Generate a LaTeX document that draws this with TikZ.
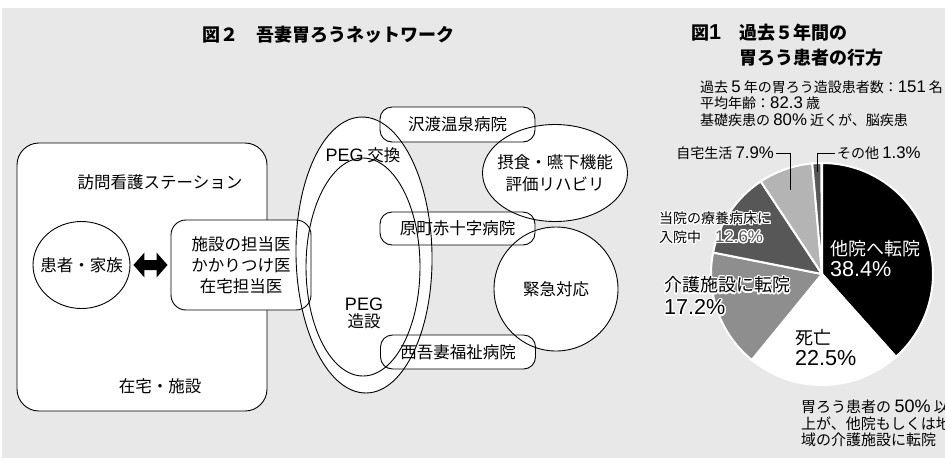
\documentclass[tikz,border=0pt]{standalone}
\usepackage{fontspec}
\setmainfont{Noto Sans CJK JP}
\newfontfamily\latinface{Liberation Sans}[Scale=1.2]
\usepackage{xcolor}
\usepackage{contour}
\usetikzlibrary{calc}
\usetikzlibrary{shapes.geometric}
\contourlength{1.2pt}
\contournumber{24}
\definecolor{paper}{HTML}{E8E8E8}
\definecolor{piemid}{HTML}{8E8E8E}
\definecolor{piedark}{HTML}{575757}
\definecolor{pielight}{HTML}{B4B4B4}
\newcommand\ltn[1]{{\latinface #1}}
\newcommand\netsize{\fontsize{16.5}{21}\selectfont}
\newcommand\headsize{\fontsize{18}{25}\selectfont\bfseries}
\newcommand\infosize{\fontsize{14}{16.5}\selectfont}
\newcommand\piebig{\fontsize{18}{21}\selectfont}
\newcommand\piesmall{\fontsize{14}{19}\selectfont}
\newcommand\notesize{\fontsize{15}{16.5}\selectfont}

\begin{document}
\begin{tikzpicture}[x=1pt,y=-1pt]
    \tikzstyle{outline}=[line width=.9pt,black]
    \tikzstyle{fillpass}=[fill=white,draw=none,text opacity=0]
    \tikzstyle{linepass}=[draw,outline,fill=none]
    \tikzstyle{netlabel}=[font=\netsize,inner sep=1pt]
    \tikzstyle{bigbox}=[draw,outline,fill=white,rounded corners=22pt,minimum width=250pt,minimum height=268pt]
    \tikzstyle{docbox}=[netlabel,align=center,rounded corners=15pt,minimum width=140pt,minimum height=90pt]
    \tikzstyle{hospital}=[netlabel,rounded corners=12pt,minimum width=155pt,minimum height=34pt]
    \tikzstyle{pegring}=[ellipse,inner sep=0pt,minimum width=136pt,minimum height=276pt]
    \tikzstyle{roundspot}=[netlabel,ellipse,align=center,inner sep=0pt]
    \tikzstyle{slice}=[draw=white,line width=2pt,line join=round]
    \tikzstyle{pietext}=[anchor=west,align=left,inner sep=2pt,font=\piebig]
    \tikzstyle{leader}=[draw,line width=.8pt,black]
    \useasboundingbox (0,0) rectangle (945,459);
    \fill[white] (0,0) rectangle (945,459);
    \fill[paper] (2,8) rectangle (945,458);
    % network
    \node[font=\headsize] (nettitle) at (328,35) {図２　吾妻胃ろうネットワーク};
    \node[bigbox] (home) at (142,277) {};
    \node[netlabel] (station) at (160,182) {訪問看護ステーション};
    \node[netlabel] (zaitaku) at (160,386) {在宅・施設};
    \node[roundspot,draw,outline,fill=white,inner xsep=-8pt,minimum width=97pt,minimum height=87pt] (patient) at (81.5,265) {患者・家族};
    \foreach \pass in {fillpass,linepass}{
        \node[pegring,\pass,rotate=1] (pegx) at (364,255) {};
        \node[pegring,\pass,minimum width=114pt,minimum height=218pt] (pegs) at (363,267) {};
        \node[hospital,\pass,minimum height=35pt] (sawa) at (457.5,124.5) {沢渡温泉病院};
        \node[hospital,\pass,minimum height=33pt] (hara) at (457.5,228.5) {原町赤十字病院};
        \node[hospital,\pass] (nishi) at (458,352) {西吾妻福祉病院};
        \node[roundspot,\pass,inner xsep=-7pt,minimum width=145pt,minimum height=97pt,font=\fontsize{16.5}{22}\selectfont] (rehab) at (555,173) {摂食・嚥下機能\\評価リハビリ};
        \node[roundspot,\pass,circle,minimum size=124pt] (urgent) at (556,289) {緊急対応};
        \node[docbox,\pass] (doctors) at (241,265) {施設の担当医\\かかりつけ医\\在宅担当医};
    }
    \node[netlabel] (pegxlabel) at (363,155) {{\latinface\fontsize{15}{17}\selectfont PEG} 交換};
    \node[netlabel,align=center,font=\fontsize{16.5}{17}\selectfont] (pegslabel) at (364,313) {{\latinface\fontsize{15}{17}\selectfont PEG}\\造設};
    % double arrow between patient and doctors
    \coordinate (arrl) at ($(patient.east)+(3,0)$);
    \coordinate (arrr) at ($(doctors.west)+(-3,0)$);
    \fill[black] (arrl) -- ++(11,-12.5) -- ++(0,7.5) -- ($(arrr)+(-11,-5)$) -- ++(0,-7.5)
        -- (arrr) -- ++(-11,12.5) -- ++(0,-7.5) -- ($(arrl)+(11,5)$) -- ++(0,7.5) -- cycle;
    % pie chart
    \node[font=\headsize,anchor=west,align=left,inner sep=0pt] (pietitle) at (691,45.5) {図\ltn{1}　過去５年間の\\\phantom{図\ltn{1}　}胃ろう患者の行方};
    \node[font=\infosize,anchor=west,align=left,inner sep=0pt] (info) at (700,103.5) {過去 \ltn{5} 年の胃ろう造設患者数：\ltn{151} 名\\平均年齢：\ltn{82.3} 歳\\基礎疾患の \ltn{80\%} 近くが、脳疾患};
    \coordinate (pie) at (822,274);
    \foreach \a/\b/\c in {-90/48.24/black,48.24/129.24/white,129.24/191.16/piemid,191.16/236.52/piedark,236.52/264.96/pielight,264.96/269.64/piedark}
        \draw[slice,fill=\c] (pie) -- ++(\a:111) arc[start angle=\a,end angle=\b,radius=111] -- cycle;
    \node[pietext,text=white] (other) at (828,258.5) {他院へ転院\\\ltn{38.4\%}};
    \node[pietext] (death) at (793,347.5) {死亡\\\ltn{22.5\%}};
    \node[pietext,font=\fontsize{18}{23}\selectfont] (care) at (662,296.5) {\contour{white}{介護施設に転院}\\\contour{white}{\ltn{17.2\%}}};
    \node[pietext,font=\piesmall] (ward) at (657,228.5) {\contour{white}{当院の療養病床に}\\\contour{white}{入院中}\quad\contour{white}{\textcolor{piedark}{\ltn{12.6\%}}}};
    \node[pietext,font=\piesmall,anchor=east] (homelbl) at (776,153) {自宅生活 \ltn{7.9\%}};
    \node[pietext,font=\piesmall] (restlbl) at (835,153) {その他 \ltn{1.3\%}};
    \coordinate (homeend) at (790,190);
    \coordinate (restend) at (817,172);
    \draw[leader] (homelbl.east) -| (homeend);
    \draw[leader] (restlbl.west) -| (restend);
    \node[font=\notesize,anchor=west,align=left,inner sep=0pt] (note) at (801,423.5) {胃ろう患者の \ltn{50\%} 以\\上が、他院もしくは地\\域の介護施設に転院};
\end{tikzpicture}
\end{document}
